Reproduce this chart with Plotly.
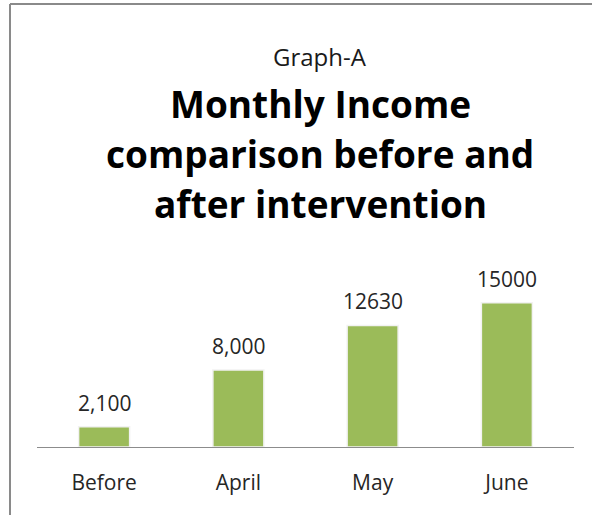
import plotly.graph_objects as go

categories = ["Before", "April", "May", "June"]
values = [2100, 8000, 12630, 15000]
value_labels = ["2,100", "8,000", "12630", "15000"]
subtitle = "Graph-A"
title_lines = ["Monthly Income", "comparison before and", "after intervention"]

W, H = 592, 515
L, R, T, B = 37, 18, 293, 68
plot_w = W - L - R
plot_h = H - T - B

def px_x(X):
    return (X - L) / plot_w

def px_y(Y):
    return (H - B - Y) / plot_h

FONT = "Open Sans"
TXT = "#262626"

fig = go.Figure()
fig.add_trace(go.Bar(
    x=categories, y=values,
    marker=dict(color="#9BBB59", line=dict(color="#f2f2f2", width=1.5)),
    width=0.38,
    hoverinfo="skip",
))

annotations = []
for c, v, t in zip(categories, values, value_labels):
    annotations.append(dict(x=c, y=v, xref="x", yref="y", text=t, showarrow=False,
                            yanchor="bottom", yshift=8,
                            font=dict(family=FONT, size=21, color=TXT)))

annotations.append(dict(x=px_x(320), y=px_y(56), xref="paper", yref="paper", text=subtitle,
                        showarrow=False, xanchor="center", yanchor="middle",
                        font=dict(family=FONT, size=24, color="#1a1a1a")))
for i, line in enumerate(title_lines):
    annotations.append(dict(x=px_x(320), y=px_y(103 + 50 * i), xref="paper", yref="paper",
                            text="<b>" + line + "</b>", showarrow=False,
                            xanchor="center", yanchor="middle",
                            font=dict(family=FONT, size=37, color="#000000")))

shapes = [
    dict(type="line", xref="paper", yref="paper", x0=px_x(10), x1=px_x(10), y0=px_y(4), y1=px_y(515),
         line=dict(color="#8a8a8a", width=2)),
    dict(type="line", xref="paper", yref="paper", x0=px_x(10), x1=px_x(594), y0=px_y(4), y1=px_y(4),
         line=dict(color="#8a8a8a", width=2)),
]

fig.update_layout(
    width=W, height=H,
    margin=dict(l=L, r=R, t=T, b=B),
    paper_bgcolor="white", plot_bgcolor="white",
    showlegend=False,
    bargap=0.62,
    annotations=annotations,
    shapes=shapes,
    xaxis=dict(showline=True, linecolor="#8c8c8c", linewidth=1, showgrid=False, ticks="",
               tickfont=dict(family=FONT, size=21, color=TXT), ticklabelstandoff=17,
               fixedrange=True),
    yaxis=dict(range=[0, 16000], showgrid=False, zeroline=False, showticklabels=False,
               showline=False, fixedrange=True),
)

fig.write_html(
    "out.html",
    config={"displayModeBar": False, "staticPlot": True},
    post_script="document.body.style.margin='0';document.body.style.overflow='hidden';"
                "document.documentElement.style.overflow='hidden';",
)
